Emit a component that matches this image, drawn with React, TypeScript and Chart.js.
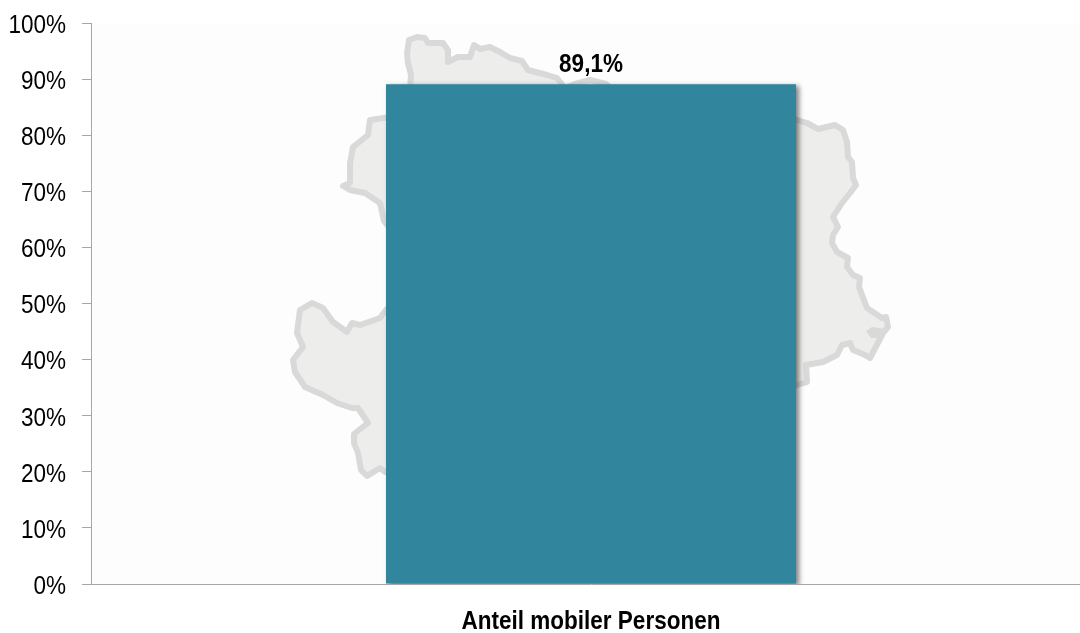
import React, { useEffect, useRef } from "react";
import { Chart, registerables } from "chart.js";

Chart.register(...registerables);

const categories = ["Anteil mobiler Personen"];
const shareMobile = [89.1];
const valueLabels = ["89,1%"];

// Decorative regional silhouette behind the bar (canvas pixels).
const mapOutline: [number, number][] = [
  [410, 90], [411, 75], [408, 63], [407, 53], [409, 40], [417, 37], [425, 38], [428, 43], [443, 43], [448, 50], [448, 62],
  [458, 57], [470, 57], [474, 45], [480, 49], [490, 47], [500, 52], [510, 58], [522, 61], [528, 70], [547, 75], [557, 78],
  [565, 88], [575, 84], [590, 80], [606, 84], [625, 100], [797, 120], [807, 123], [818, 129], [835, 125], [843, 130], [847, 142], [848, 157],
  [852, 162], [853, 178], [856, 185], [850, 193], [842, 203], [833, 217], [838, 227], [833, 235], [832, 243], [837, 252],
  [848, 258], [847, 267], [853, 275], [860, 278], [859, 287], [867, 308], [882, 318], [886, 317], [888, 327], [883, 333],
  [870, 358], [865, 355], [853, 350], [850, 343], [842, 345], [837, 355], [823, 362], [806, 365], [807, 382], [797, 385],
  [385, 472], [380, 468], [367, 476], [361, 470], [358, 453], [354, 443], [354, 434], [368, 423], [358, 408], [352, 408],
  [337, 403], [323, 395], [305, 387], [295, 372], [293, 360], [303, 347], [297, 333], [300, 310], [312, 303], [323, 308],
  [333, 322], [347, 332], [352, 323], [360, 325], [380, 318], [386, 310], [396, 300], [396, 235], [384, 221], [380, 203], [365, 193], [350, 190],
  [343, 186], [350, 183], [350, 163], [353, 147], [368, 135], [370, 120], [390, 117],
];
const mapBlob: [number, number][] = [[866, 331], [872, 327], [885, 329], [882, 338], [871, 338]];

const tracePath = (ctx: CanvasRenderingContext2D, pts: [number, number][]) => {
  ctx.beginPath();
  pts.forEach(([x, y], i) => (i ? ctx.lineTo(x, y) : ctx.moveTo(x, y)));
  ctx.closePath();
};

const TEXT_SQUEEZE = 0.9;
const TEXT_DROP = 3;

const backdropPlugin = {
  id: "backdrop",
  beforeDraw(chart: any) {
    const { ctx, chartArea: a } = chart;
    ctx.save();
    ctx.fillStyle = "#fdfdfd";
    ctx.fillRect(a.left, a.top, a.right - a.left, a.bottom - a.top);
    ctx.restore();
    if (!ctx.__squeezed) {
      // The reference's type is slightly condensed: narrow every text run horizontally.
      const original = ctx.fillText.bind(ctx);
      ctx.fillText = (t: string, x: number, y: number) => {
        ctx.save();
        ctx.translate(x, y + TEXT_DROP);
        ctx.scale(TEXT_SQUEEZE, 1);
        original(t, 0, 0);
        ctx.restore();
      };
      ctx.__squeezed = true;
    }
  },
  beforeDatasetsDraw(chart: any) {
    const { ctx } = chart;
    ctx.save();
    ctx.lineJoin = "round";
    ctx.lineCap = "round";
    ctx.filter = "blur(0.6px)";
    ctx.fillStyle = "#edeeeb";
    ctx.strokeStyle = "#d9d9d9";
    ctx.lineWidth = 6;
    tracePath(ctx, mapOutline);
    ctx.fill();
    ctx.stroke();
    ctx.fillStyle = "#d9d9d9";
    tracePath(ctx, mapBlob);
    ctx.fill();
    ctx.restore();
  },
  beforeDatasetDraw(chart: any) {
    const { ctx } = chart;
    ctx.save();
    ctx.shadowColor = "rgba(0,0,0,0.5)";
    ctx.shadowBlur = 5;
    ctx.shadowOffsetX = 3;
    ctx.shadowOffsetY = 2;
  },
  afterDatasetDraw(chart: any) {
    chart.ctx.restore();
  },
  afterDatasetsDraw(chart: any) {
    const { ctx } = chart;
    const meta = chart.getDatasetMeta(0);
    ctx.save();
    ctx.font = 'bold 25px "Liberation Sans", Arial, sans-serif';
    ctx.fillStyle = "#000";
    ctx.textAlign = "center";
    ctx.textBaseline = "bottom";
    meta.data.forEach((bar: any, i: number) => ctx.fillText(valueLabels[i], bar.x, bar.y - 10));
    ctx.restore();
  },
};

export default function App() {
  const ref = useRef<HTMLCanvasElement>(null);
  useEffect(() => {
    const chart = new Chart(ref.current!, {
      type: "bar",
      data: {
        labels: categories,
        datasets: [{ data: shareMobile, backgroundColor: "#31859c", barPercentage: 0.41, categoryPercentage: 1 }],
      },
      plugins: [backdropPlugin],
      options: {
        animation: false,
        responsive: false,
        layout: { padding: { top: 23, left: 0, right: 0, bottom: 0 } },
        plugins: { legend: { display: false }, tooltip: { enabled: false } },
        scales: {
          x: {
            grid: { display: false },
            border: { color: "#a6a6a6", width: 1 },
            ticks: { color: "#000", padding: 12, font: { family: '"Liberation Sans", Arial, sans-serif', size: 25, weight: "bold" } },
            afterFit: (s: any) => { s.height = 49; s.paddingLeft = 0; s.paddingRight = 0; },
          },
          y: {
            min: 0,
            max: 100,
            grid: { drawOnChartArea: false, tickLength: 9, color: "#a6a6a6" },
            border: { color: "#a6a6a6", width: 1 },
            ticks: {
              stepSize: 10,
              color: "#000",
              padding: 16,
              font: { family: '"Liberation Sans", Arial, sans-serif', size: 25 },
              callback: (v: any) => `${v}%`,
            },
            afterFit: (s: any) => { s.width = 91; s.paddingTop = 0; s.paddingBottom = 0; },
          },
        },
      },
    } as any);
    return () => chart.destroy();
  }, []);
  return (
    <div style={{ position: "fixed", left: 0, top: 0, width: 1080, height: 633, overflow: "hidden", background: "#fff" }}>
      <canvas ref={ref} width={1091} height={633} style={{ display: "block" }} />
    </div>
  );
}
